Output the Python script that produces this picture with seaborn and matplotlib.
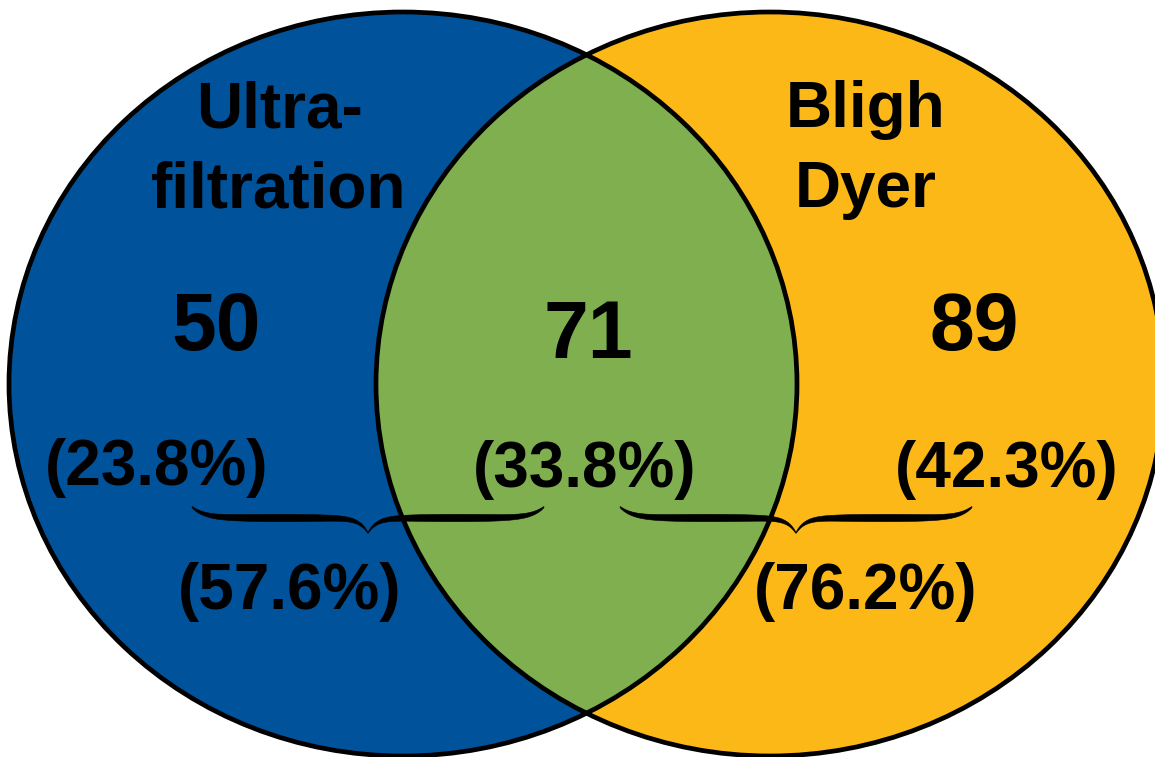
import numpy as np
import matplotlib
matplotlib.use("Agg")
import matplotlib.pyplot as plt
from matplotlib.patches import Ellipse, Polygon
import seaborn as sns

# Two-set overlap of identified compounds by extraction method
set_names = ["Ultra-\nfiltration", "Bligh\nDyer"]
region_counts = [50, 71, 89]            # only A, shared, only B
region_shares = [23.8, 33.8, 42.3]      # percent of all compounds
set_shares = [57.6, 76.2]               # percent found by each method

colors = {"A": "#00529B", "B": "#FBB817", "AB": "#80AF50"}

sns.set_theme(style="white")
plt.rcParams["font.family"] = ["Liberation Sans", "DejaVu Sans"]
plt.rcParams["font.weight"] = "bold"

W, H = 1155, 757
fig = plt.figure(figsize=(W / 100, H / 100), dpi=100)
ax = fig.add_axes([0, 0, 1, 1])
ax.set_xlim(0, W)
ax.set_ylim(H, 0)
ax.set_axis_off()

# circle layout (canvas units)
cy = 384
rx, ry = 394, 372
cxA, cxB = 403, 770

ellA = Ellipse((cxA, cy), 2 * rx, 2 * ry, facecolor=colors["A"], edgecolor="none", zorder=1)
ellB = Ellipse((cxB, cy), 2 * rx, 2 * ry, facecolor=colors["B"], edgecolor="none", zorder=1)
ax.add_patch(ellA)
ax.add_patch(ellB)

# overlap region: right ellipse clipped to the left one
clipA = Ellipse((cxA, cy), 2 * rx, 2 * ry, transform=ax.transData)
overlap = Ellipse((cxB, cy), 2 * rx, 2 * ry, facecolor=colors["AB"], edgecolor="none", zorder=2)
ax.add_patch(overlap)
overlap.set_clip_path(clipA)

for cx in (cxA, cxB):
    ax.add_patch(Ellipse((cx, cy), 2 * rx, 2 * ry, fill=False,
                         edgecolor="black", linewidth=3.4, zorder=3))

txt = dict(ha="center", va="baseline", color="black", fontweight="bold", zorder=5)

# set names
for name, x in zip(set_names, (279, 866)):
    top, bottom = name.split("\n")
    ax.text(x, 127, top, fontsize=46, **txt)
    ax.text(x, 207, bottom, fontsize=46, **txt)

# region counts and shares
count_pos = [(216, 350), (588, 358), (974, 350)]
share_pos = [(157, 485), (585, 487), (1007, 487)]
for n, (x, y) in zip(region_counts, count_pos):
    ax.text(x, y, f"{n}", fontsize=58, **txt)
for p, (x, y) in zip(region_shares, share_pos):
    ax.text(x, y, f"({p:.1f}%)", fontsize=46, **txt)

# per-method totals under the braces
total_pos = [(290, 609), (866, 609)]
for p, (x, y) in zip(set_shares, total_pos):
    ax.text(x, y, f"({p:.1f}%)", fontsize=46, **txt)


def brace(x0, x1, y_top, depth_mid=11, depth_tip=15, width=6.5):
    """Horizontal curly brace opening upward with its tip pointing down."""
    xm = (x0 + x1) / 2
    u = np.linspace(0, 1, 240)
    yh = y_top + depth_mid * (1 - np.exp(-u / 0.07)) + depth_tip * np.exp((u - 1) / 0.05)
    w = 0.8 + width * np.sin(np.pi * u) ** 0.5
    xl = x0 + (xm - x0) * u
    xr = x1 - (x1 - xm) * u
    xs = np.concatenate([xl, xr[::-1]])
    ys = np.concatenate([yh, yh[::-1]])
    ws = np.concatenate([w, w[::-1]])
    upper = np.column_stack([xs, ys - ws / 2])
    lower = np.column_stack([xs, ys + ws / 2])[::-1]
    ax.add_patch(Polygon(np.vstack([upper, lower]), closed=True,
                         facecolor="black", edgecolor="black", linewidth=0.4, zorder=4))


brace(192, 544, 507)
brace(620, 972, 507)

fig.savefig("out.png", dpi=100)
